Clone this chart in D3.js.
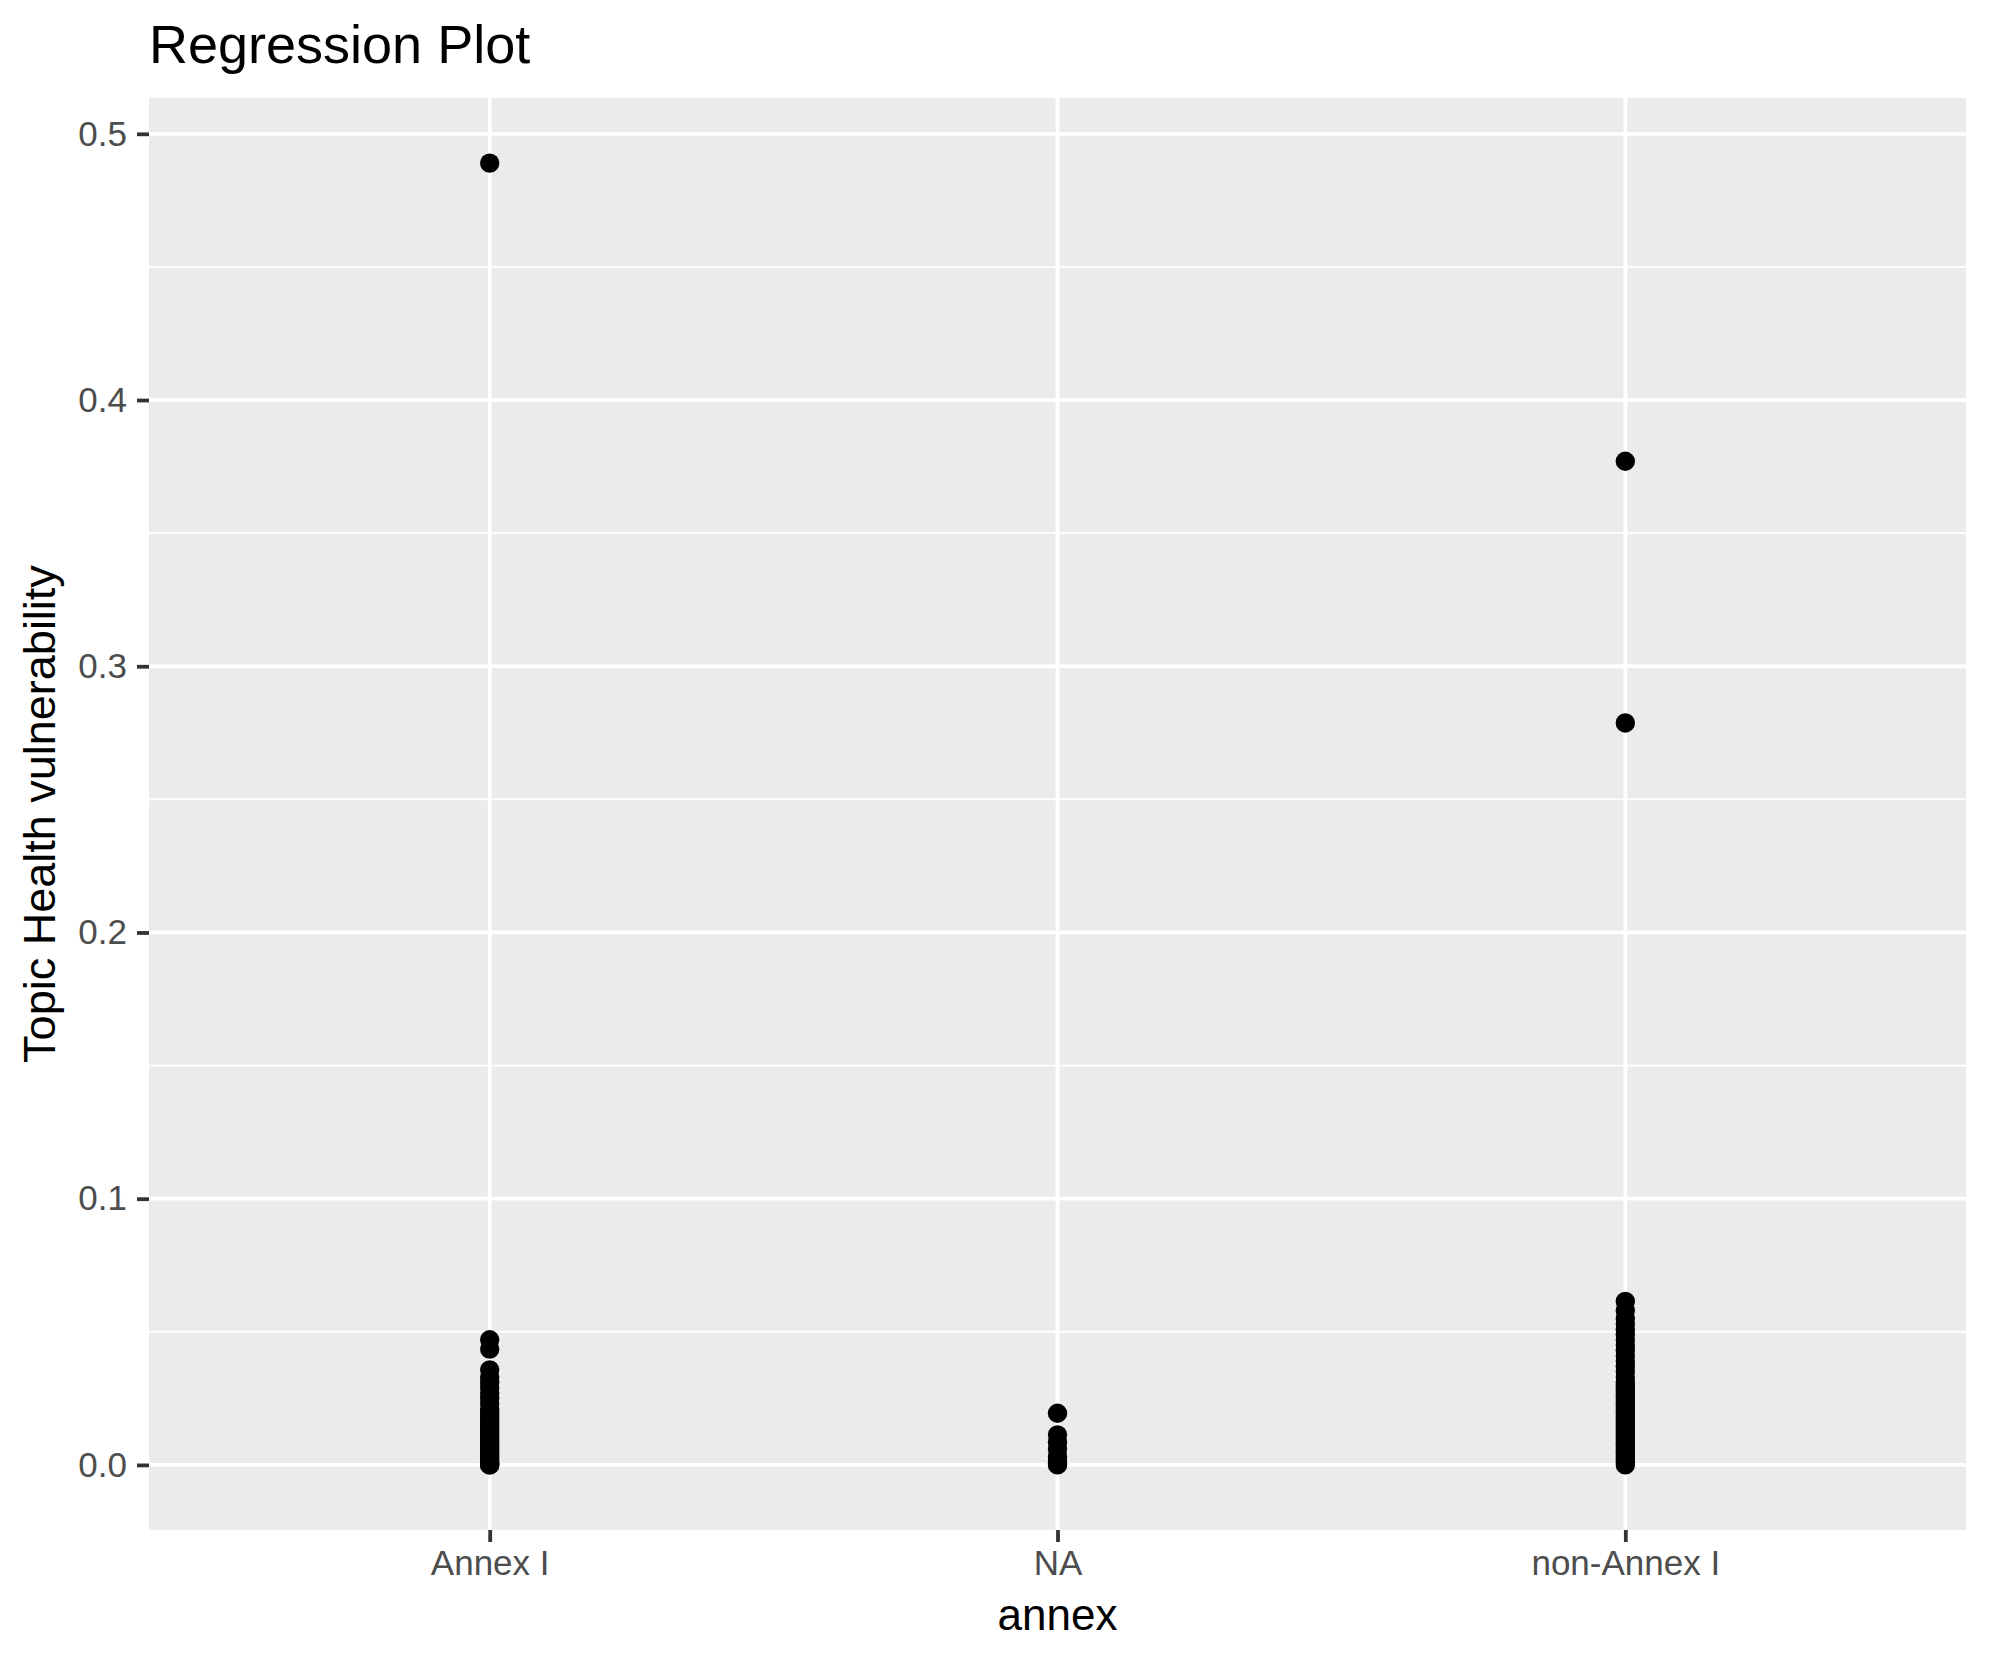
<!DOCTYPE html>
<html>
<head>
<meta charset="utf-8">
<script src="https://cdn.jsdelivr.net/npm/d3@7"></script>
<style>
  html, body { margin: 0; padding: 0; background: #ffffff; }
  svg { display: block; }
  text { font-family: "Liberation Sans", Arial, Helvetica, sans-serif; }
</style>
</head>
<body>
<svg id="chart" width="1990" height="1665"></svg>
<script>
// ---- Data ----
const categories = ["Annex I", "NA", "non-Annex I"];
const annexIValues = [0.489, 0.047, 0.0435, 0.0357, 0.033, 0.031, 0.029, 0.027, 0.025, 0.023,
  0.021, 0.020, 0.019, 0.018, 0.017, 0.016, 0.015, 0.014, 0.013, 0.012, 0.011, 0.010,
  0.009, 0.008, 0.007, 0.006, 0.005, 0.004, 0.003, 0.002, 0.001, 0.0005, 0.0, 0.0];
const naValues = [0.0194, 0.0113, 0.0085, 0.006, 0.0031, 0.0015, 0.0005, 0.0];
const nonAnnexIValues = [0.377, 0.2787, 0.0614, 0.058, 0.055, 0.053, 0.051, 0.049, 0.047,
  0.045, 0.043, 0.041, 0.039, 0.037, 0.035, 0.033, 0.031, 0.030, 0.029, 0.028, 0.027,
  0.026, 0.025, 0.024, 0.023, 0.022, 0.021, 0.020, 0.019, 0.018, 0.017, 0.016, 0.015,
  0.014, 0.013, 0.012, 0.011, 0.010, 0.009, 0.008, 0.007, 0.006, 0.005, 0.004, 0.003,
  0.002, 0.001, 0.0];
const yMajorTicks = [0.0, 0.1, 0.2, 0.3, 0.4, 0.5];
const yMinorTicks = [0.05, 0.15, 0.25, 0.35, 0.45];
const titleText = "Regression Plot";
const xTitle = "annex";
const yTitle = "Topic Health vulnerability";

const points = [];
annexIValues.forEach(v => points.push({cat: "Annex I", v}));
naValues.forEach(v => points.push({cat: "NA", v}));
nonAnnexIValues.forEach(v => points.push({cat: "non-Annex I", v}));

// ---- Layout ----
const panel = {left: 149, right: 1966, top: 98, bottom: 1530};
const svg = d3.select("#chart");

const yMin = d3.min(points, d => d.v), yMax = d3.max(points, d => d.v);
const pad = (yMax - yMin) * 0.05;
const y = d3.scaleLinear().domain([yMin - pad, yMax + pad]).range([panel.bottom, panel.top]);
const x = d3.scalePoint().domain(categories).range([panel.left, panel.right]).padding(0.6);

// Panel background
svg.append("rect")
  .attr("x", panel.left).attr("y", panel.top)
  .attr("width", panel.right - panel.left).attr("height", panel.bottom - panel.top)
  .attr("fill", "#ebebeb");

// Grid
const g = svg.append("g");
g.selectAll("line.minor").data(yMinorTicks).enter().append("line")
  .attr("x1", panel.left).attr("x2", panel.right)
  .attr("y1", d => y(d)).attr("y2", d => y(d))
  .attr("stroke", "#ffffff").attr("stroke-width", 1.9);
g.selectAll("line.majory").data(yMajorTicks).enter().append("line")
  .attr("x1", panel.left).attr("x2", panel.right)
  .attr("y1", d => y(d)).attr("y2", d => y(d))
  .attr("stroke", "#ffffff").attr("stroke-width", 3.8);
g.selectAll("line.majorx").data(categories).enter().append("line")
  .attr("x1", d => x(d)).attr("x2", d => x(d))
  .attr("y1", panel.top).attr("y2", panel.bottom)
  .attr("stroke", "#ffffff").attr("stroke-width", 3.8);

// Points
svg.append("g").selectAll("circle").data(points).enter().append("circle")
  .attr("cx", d => x(d.cat)).attr("cy", d => y(d.v))
  .attr("r", 9.7).attr("fill", "#000000");

// Y axis
const yAxis = d3.axisLeft(y).tickValues(yMajorTicks).tickFormat(d3.format(".1f"))
  .tickSize(12).tickPadding(10);
const ya = svg.append("g").attr("transform", `translate(${panel.left},0)`).call(yAxis);
ya.select(".domain").remove();
ya.selectAll(".tick line").attr("stroke", "#333333").attr("stroke-width", 3.8);
ya.selectAll(".tick text").attr("fill", "#4d4d4d").style("font-size", "35px")
  .style("font-family", "'Liberation Sans', Arial, sans-serif");

// X axis
const xAxis = d3.axisBottom(x).tickSize(12).tickPadding(8);
const xa = svg.append("g").attr("transform", `translate(0,${panel.bottom})`).call(xAxis);
xa.select(".domain").remove();
xa.selectAll(".tick line").attr("stroke", "#333333").attr("stroke-width", 3.8);
xa.selectAll(".tick text").attr("fill", "#4d4d4d").style("font-size", "35px")
  .style("font-family", "'Liberation Sans', Arial, sans-serif");

// Titles
svg.append("text").attr("x", panel.left).attr("y", 63)
  .style("font-size", "54px").attr("fill", "#000").text(titleText);
svg.append("text").attr("x", (panel.left + panel.right) / 2).attr("y", 1630)
  .attr("text-anchor", "middle").style("font-size", "44px").attr("fill", "#000").text(xTitle);
svg.append("text")
  .attr("transform", `translate(55,${(panel.top + panel.bottom) / 2}) rotate(-90)`)
  .attr("text-anchor", "middle").style("font-size", "45px").attr("fill", "#000").text(yTitle);
</script>
</body>
</html>
